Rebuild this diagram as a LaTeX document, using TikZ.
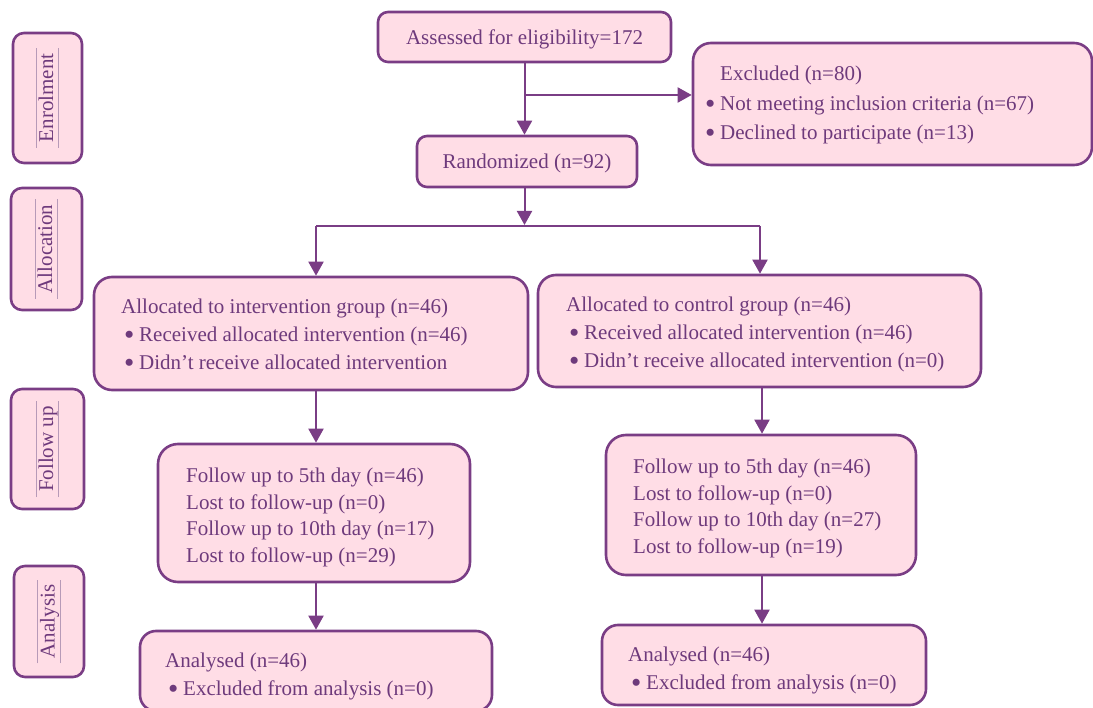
\documentclass[tikz,border=0pt]{standalone}
\usepackage{fontspec}
\setmainfont{Liberation Serif}
\usetikzlibrary{arrows.meta,calc}
\definecolor{pborder}{HTML}{7A3D85}
\definecolor{pfill}{HTML}{FFDDE6}
\definecolor{ptext}{HTML}{6E3A7C}
\definecolor{pline}{HTML}{B79AB8}
\newcommand\bul{\makebox[18pt][l]{\hspace{3pt}\raisebox{-3.2pt}{\scalebox{1.4}{•}}}}
\begin{document}
\begin{tikzpicture}[x=1pt,y=-1pt,
  box/.style={draw=pborder, fill=pfill, line width=2.6pt, rounded corners=14pt, inner sep=0pt, text=ptext, font=\fontsize{21pt}{28pt}\selectfont},
  sidebox/.style={box, rounded corners=11pt},
  txt/.style={text=ptext, inner sep=0pt, align=left, anchor=west, font=\fontsize{21pt}{#1}\selectfont},
  txt/.default=28pt,
  side/.style={text=ptext, inner xsep=5pt, inner ysep=1.5pt, rotate=90, font=\fontsize{21pt}{25pt}\selectfont, text height=15pt, text depth=4pt},
  sline/.style={draw=pline, line width=0.8pt},
  conn/.style={draw=pborder, line width=2pt},
  arr/.style={conn, -{Triangle[length=14pt,width=15pt]}}
]
\useasboundingbox (0,0) rectangle (1093,708);

% side labels
\node[sidebox, minimum width=69pt, minimum height=130pt] (sE) at (47.5,98) {};
\node[side] (lE) at (sE) {Enrolment};
\node[sidebox, minimum width=71pt, minimum height=122pt] (sA) at (46.5,249) {};
\node[side] (lA) at (sA) {Allocation};
\node[sidebox, minimum width=73pt, minimum height=120pt] (sF) at (47.5,449) {};
\node[side] (lF) at (sF) {Follow up};
\node[sidebox, minimum width=70pt, minimum height=111pt] (sN) at (49,621.5) {};
\node[side] (lN) at (sN) {Analysis};
\foreach \n in {lE,lA,lF,lN}{
  \draw[sline] (\n.north west) -- (\n.north east);
  \draw[sline] (\n.south west) -- (\n.south east);
}

% main boxes
\node[box, rounded corners=10pt, minimum width=293pt, minimum height=50pt, text depth=0pt] (assess) at (524.5,37) {Assessed for eligibility=172};
\node[box, minimum width=399pt, minimum height=122pt, rounded corners=18pt] (excl) at (892.5,104) {};
\node[txt=29.5pt] (exclt) at (702,105) {\hspace*{18pt}Excluded (n=80)\\\bul Not meeting inclusion criteria (n=67)\\\bul Declined to participate (n=13)};
\node[box, rounded corners=10pt, minimum width=220pt, minimum height=51pt, text depth=0pt] (rand) at (527,161.5) {Randomized (n=92)};

\node[box, minimum width=434pt, minimum height=113pt, rounded corners=18pt] (allocL) at (311,333.5) {};
\node[txt] (allocLt) at (121,335.5) {Allocated to intervention group (n=46)\\\bul Received allocated intervention (n=46)\\\bul Didn’t receive allocated intervention};
\node[box, minimum width=443pt, minimum height=112pt, rounded corners=18pt] (allocR) at (759.5,331) {};
\node[txt] (allocRt) at (566,334) {Allocated to control group (n=46)\\\bul Received allocated intervention (n=46)\\\bul Didn’t receive allocated intervention (n=0)};

\node[box, minimum width=312pt, minimum height=138pt, rounded corners=20pt] (follL) at (314,513) {};
\node[txt=26.8pt] (follLt) at (186,517.5) {Follow up to 5th day (n=46)\\Lost to follow-up (n=0)\\Follow up to 10th day (n=17)\\Lost to follow-up (n=29)};
\node[box, minimum width=310pt, minimum height=140pt, rounded corners=20pt] (follR) at (761,505) {};
\node[txt=26.8pt] (follRt) at (633,508.5) {Follow up to 5th day (n=46)\\Lost to follow-up (n=0)\\Follow up to 10th day (n=27)\\Lost to follow-up (n=19)};

\node[box, minimum width=352pt, minimum height=80pt, rounded corners=16pt] (anaL) at (316,671) {};
\node[txt] (anaLt) at (165,676) {Analysed (n=46)\\\bul Excluded from analysis (n=0)};
\node[box, minimum width=324pt, minimum height=80pt, rounded corners=16pt] (anaR) at (764,665) {};
\node[txt] (anaRt) at (628,670) {Analysed (n=46)\\\bul Excluded from analysis (n=0)};

% connectors
\coordinate (br) at (524.5,95);
\coordinate (split) at (524.5,226);
\coordinate (sL) at (316,226);
\coordinate (sR) at (760,226);
\coordinate (xL) at (316,0);
\coordinate (xR) at (762,0);
\draw[arr] (assess.south) -- (assess.south |- rand.north);
\draw[arr] (br) -- (br -| excl.west);
\draw[arr] (split |- rand.south) -- ($(split)+(0,-1)$);
\draw[conn] (sL) -- (sR);
\draw[arr] (sL) -- (sL |- allocL.north);
\draw[arr] (sR) -- (sR |- allocR.north);
\draw[arr] (xL |- allocL.south) -- (xL |- follL.north);
\draw[arr] (xR |- allocR.south) -- (xR |- follR.north);
\draw[arr] (xL |- follL.south) -- (xL |- anaL.north);
\draw[arr] (xR |- follR.south) -- (xR |- anaR.north);
\end{tikzpicture}
\end{document}
